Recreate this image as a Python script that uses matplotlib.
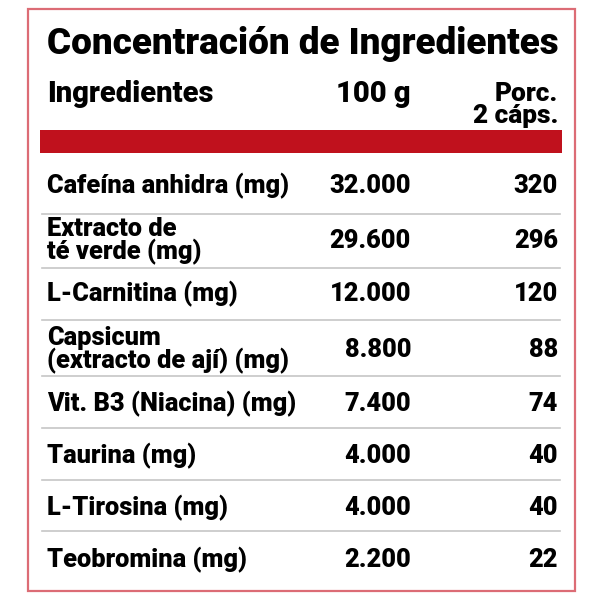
import matplotlib
matplotlib.use("Agg")
import matplotlib.pyplot as plt
from matplotlib.patches import Rectangle

title = "Concentración de Ingredientes"
col_headers = ["Ingredientes", "100 g", "Porc.\n2 cáps."]
ingredients = [
    "Cafeína anhidra (mg)",
    "Extracto de\nté verde (mg)",
    "L-Carnitina (mg)",
    "Capsicum\n(extracto de ají) (mg)",
    "Vit. B3 (Niacina) (mg)",
    "Taurina (mg)",
    "L-Tirosina (mg)",
    "Teobromina (mg)",
]
per_100g = [32000, 29600, 12000, 8800, 7400, 4000, 4000, 2200]
per_serving = [320, 296, 120, 88, 74, 40, 40, 22]


def fmt_es(v):
    # spanish thousands separator
    return f"{v:,}".replace(",", ".")


def fit_width(txt, target, renderer):
    w = txt.get_window_extent(renderer).width
    txt.set_fontsize(txt.get_fontsize() * target / w)


plt.rcParams["font.family"] = ["Roboto", "DejaVu Sans"]
plt.rcParams["font.weight"] = "black"
fig = plt.figure(figsize=(6, 6), dpi=100)
ax = fig.add_axes([0, 0, 1, 1])
ax.set_xlim(0, 600)
ax.set_ylim(600, 0)
ax.axis("off")
renderer = fig.canvas.get_renderer()

# outer frame and red header bar
ax.add_patch(Rectangle((28, 9), 547, 582, fill=False, edgecolor="#dc6c75", linewidth=1.6))
ax.add_patch(Rectangle((40, 130), 522, 23, facecolor="#c0111d", edgecolor="none"))

left_x, mid_x, right_x = 47, 411, 558

t = ax.text(left_x, 54, title, fontsize=22, va="baseline", ha="left")
fit_width(t, 512, renderer)

h = ax.text(left_x, 102, col_headers[0], fontsize=16, va="baseline", ha="left")
fit_width(h, 167, renderer)
ax.text(mid_x, 102, col_headers[1], fontsize=h.get_fontsize(), va="baseline", ha="right")
ax.text(right_x, 105, col_headers[2], fontsize=h.get_fontsize() * 0.9,
        va="center", ha="right", linespacing=0.85, multialignment="right")

row_y = [186, 241, 294, 350, 404, 456, 508, 560]
sep_y = [214, 268, 320, 376, 428, 480, 531]

probe = ax.text(0, 0, ingredients[4], fontsize=14)
fit_width(probe, 249, renderer)
row_fs = probe.get_fontsize()
probe.remove()

for y in sep_y:
    ax.plot([42, 560], [y, y], color="#c6c6c6", linewidth=1.2)

for name, a, b, y in zip(ingredients, per_100g, per_serving, row_y):
    ax.text(left_x, y, name, fontsize=row_fs, va="center", ha="left", linespacing=0.85)
    ax.text(mid_x, y, fmt_es(a), fontsize=row_fs, va="center", ha="right")
    ax.text(right_x, y, str(b), fontsize=row_fs, va="center", ha="right")

fig.savefig("out.png", dpi=100)
